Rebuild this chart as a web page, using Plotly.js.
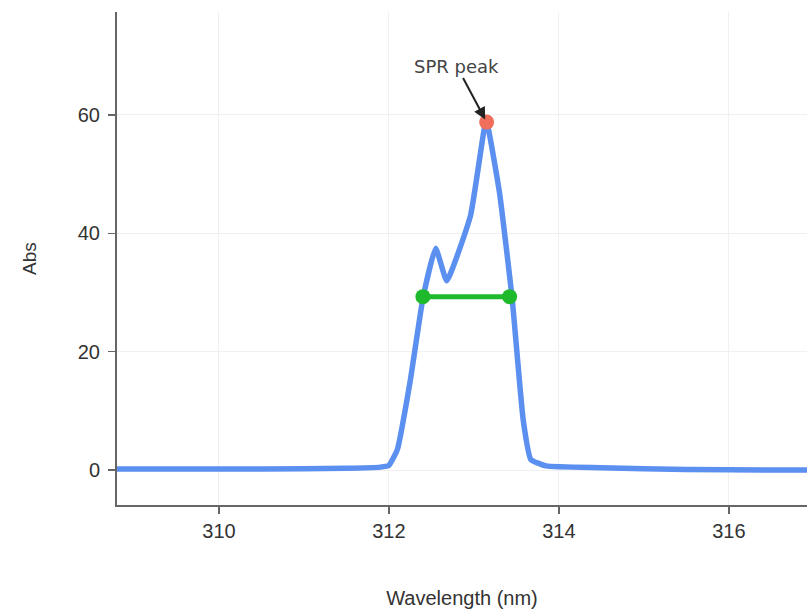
<!DOCTYPE html>
<html>
<head>
<meta charset="utf-8">
<script src="https://cdn.plot.ly/plotly-3.0.1.min.js"></script>
<style>html,body{margin:0;padding:0;background:#fff}#chart{width:807px;height:615px}</style>
</head>
<body>
<div id="chart"></div>
<script>
const wavelength = [308.8, 309.5, 310.5, 311.5, 311.9, 312.0, 312.1, 312.25, 312.4, 312.55, 312.68, 312.96, 313.12, 313.15, 313.3, 313.45, 313.58, 313.67, 313.85, 314.5, 315.5, 316.5, 317.0];
const absorbance = [0.2, 0.2, 0.2, 0.3, 0.5, 0.8, 3.5, 15, 29, 37.5, 32, 43, 57.5, 58.8, 47, 29, 8.5, 1.8, 0.7, 0.4, 0.1, 0.0, 0.0];
const fwhmX = [312.4, 313.42];
const fwhmY = [29.3, 29.3];
const peakX = [313.15];
const peakY = [58.8];
const xTicks = [310, 312, 314, 316];
const yTicks = [0, 20, 40, 60];

const traces = [
  {x: wavelength, y: absorbance, type: 'scatter', mode: 'lines',
   line: {color: '#5b8ff0', width: 5.5, shape: 'spline', smoothing: 0.4}, hoverinfo: 'skip'},
  {x: fwhmX, y: fwhmY, type: 'scatter', mode: 'lines+markers',
   line: {color: '#1fba2c', width: 5}, marker: {color: '#1fba2c', size: 15}},
  {x: peakX, y: peakY, type: 'scatter', mode: 'markers',
   marker: {color: '#ef6f5c', size: 15}}
];

const layout = {
  width: 807, height: 615,
  margin: {l: 117, r: 0, t: 12, b: 110},
  paper_bgcolor: '#fff', plot_bgcolor: '#fff',
  showlegend: false,
  font: {family: 'Liberation Sans, Arial, sans-serif', color: '#333'},
  xaxis: {
    range: [308.8, 316.92], tickvals: xTicks, ticktext: xTicks.map(String),
    showline: true, linecolor: '#666', linewidth: 2, mirror: false,
    ticks: 'outside', ticklen: 7, tickcolor: '#666', tickwidth: 1.5,
    ticklabelstandoff: 0,
    showgrid: true, gridcolor: '#f0f0f0', zeroline: false,
    tickfont: {size: 20, color: '#333'},
    title: {text: 'Wavelength (nm)', font: {size: 20, color: '#333'}, standoff: 50}
  },
  yaxis: {
    range: [-5.9, 77.4], tickvals: yTicks, ticktext: yTicks.map(String),
    showline: true, linecolor: '#666', linewidth: 2,
    ticks: 'outside', ticklen: 7, tickcolor: '#666', tickwidth: 1.5,
    ticklabelstandoff: 4,
    showgrid: true, gridcolor: '#f0f0f0', zeroline: false,
    tickfont: {size: 20, color: '#333'},
    title: {text: 'Abs', font: {size: 19, color: '#333'}, standoff: 36}
  },
  annotations: [{
    x: peakX[0], y: peakY[0], xref: 'x', yref: 'y',
    text: 'SPR peak', showarrow: true, arrowhead: 2, arrowsize: 1.2, arrowwidth: 2,
    arrowcolor: '#222', ax: -30, ay: -56, standoff: 3,
    font: {family: 'DejaVu Sans, sans-serif', size: 18, color: '#444'}
  }]
};

Plotly.newPlot('chart', traces, layout, {displayModeBar: false, staticPlot: true});
</script>
</body>
</html>
